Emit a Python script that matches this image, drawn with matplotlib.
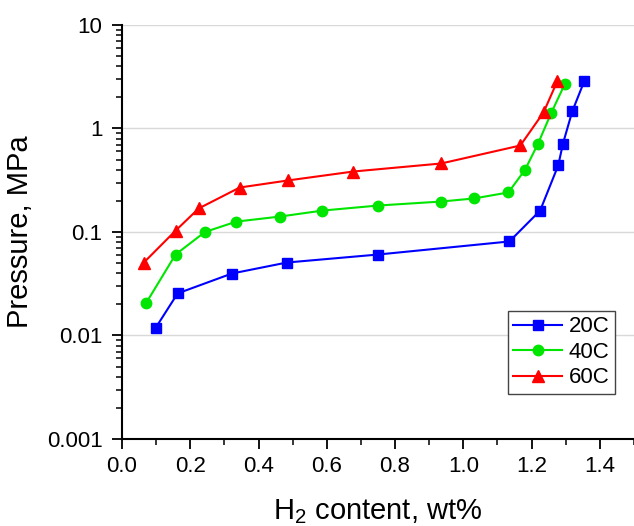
import numpy as np
import matplotlib
matplotlib.use('Agg')
import matplotlib.pyplot as plt
from matplotlib.ticker import FixedLocator, LogLocator, MultipleLocator, FuncFormatter, NullFormatter

plt.rcParams['font.family'] = ['Liberation Sans', 'DejaVu Sans']
plt.rcParams['mathtext.fontset'] = 'custom'
plt.rcParams['mathtext.rm'] = 'Liberation Sans'
plt.rcParams['mathtext.it'] = 'Liberation Sans'

# 20C
x20 = [0.099, 0.163, 0.322, 0.483, 0.751, 1.135, 1.225, 1.278, 1.292, 1.319, 1.354]
p20 = [0.0119, 0.0255, 0.0397, 0.0507, 0.0606, 0.081, 0.161, 0.44, 0.716, 1.46, 2.85]
# 40C
x40 = [0.070, 0.157, 0.243, 0.335, 0.463, 0.587, 0.749, 0.936, 1.032, 1.132, 1.181, 1.219, 1.257, 1.298]
p40 = [0.0204, 0.0606, 0.100, 0.126, 0.141, 0.161, 0.180, 0.197, 0.211, 0.241, 0.40, 0.716, 1.40, 2.72]
# 60C
x60 = [0.064, 0.157, 0.225, 0.345, 0.487, 0.678, 0.935, 1.167, 1.235, 1.275]
p60 = [0.0507, 0.103, 0.169, 0.269, 0.315, 0.384, 0.459, 0.685, 1.43, 2.85]

y_ticks = [0.001, 0.01, 0.1, 1, 10]
y_labels = ['0.001', '0.01', '0.1', '1', '10']

fig = plt.figure(figsize=(6.34, 5.26), dpi=100)
ax = fig.add_axes([0.1924, 0.1654, 0.8076, 0.7871])

ax.plot(x20, p20, '-s', color='#0000ff', lw=1.5, ms=6.5, label='20C')
ax.plot(x40, p40, '-o', color='#00e600', lw=1.5, ms=7.5, label='40C')
ax.plot(x60, p60, '-^', color='#ff0000', lw=1.5, ms=8, label='60C')

ax.set_yscale('log')
ax.set_ylim(0.001, 10)
ax.set_xlim(0, 1.5)

ax.yaxis.set_major_locator(FixedLocator(y_ticks))
ax.yaxis.set_major_formatter(FuncFormatter(lambda v, pos: y_labels[y_ticks.index(v)] if v in y_ticks else ''))
ax.yaxis.set_minor_locator(LogLocator(base=10, subs=np.arange(2, 10)))
ax.yaxis.set_minor_formatter(NullFormatter())
ax.xaxis.set_major_locator(FixedLocator([0, 0.2, 0.4, 0.6, 0.8, 1.0, 1.2, 1.4]))
ax.xaxis.set_major_formatter(FuncFormatter(lambda v, pos: '%.1f' % v))
ax.xaxis.set_minor_locator(MultipleLocator(0.1))

ax.grid(True, which='major', axis='y', color='#d9d9d9', lw=1)
ax.set_axisbelow(True)

for s in ['top', 'right']:
    ax.spines[s].set_visible(False)
for s in ['left', 'bottom']:
    ax.spines[s].set_linewidth(1.5)

ax.tick_params(which='major', direction='out', length=7, width=1.3, labelsize=16, pad=5)
ax.tick_params(which='minor', direction='out', length=4, width=1.1)
ax.tick_params(axis='y', which='major', pad=7)

ax.set_ylabel('Pressure, MPa', fontsize=21, labelpad=9)
ax.set_xlabel('H$_2$ content, wt%', fontsize=21, labelpad=15)

leg = ax.legend(loc='lower right', bbox_to_anchor=(0.963, 0.109), borderaxespad=0,
                fontsize=16, fancybox=False, framealpha=1, edgecolor='#444444',
                handlelength=2.2, labelspacing=0.2, handletextpad=0.3, borderpad=0.25)
leg.get_frame().set_linewidth(1)

fig.savefig('out.png', dpi=100)
